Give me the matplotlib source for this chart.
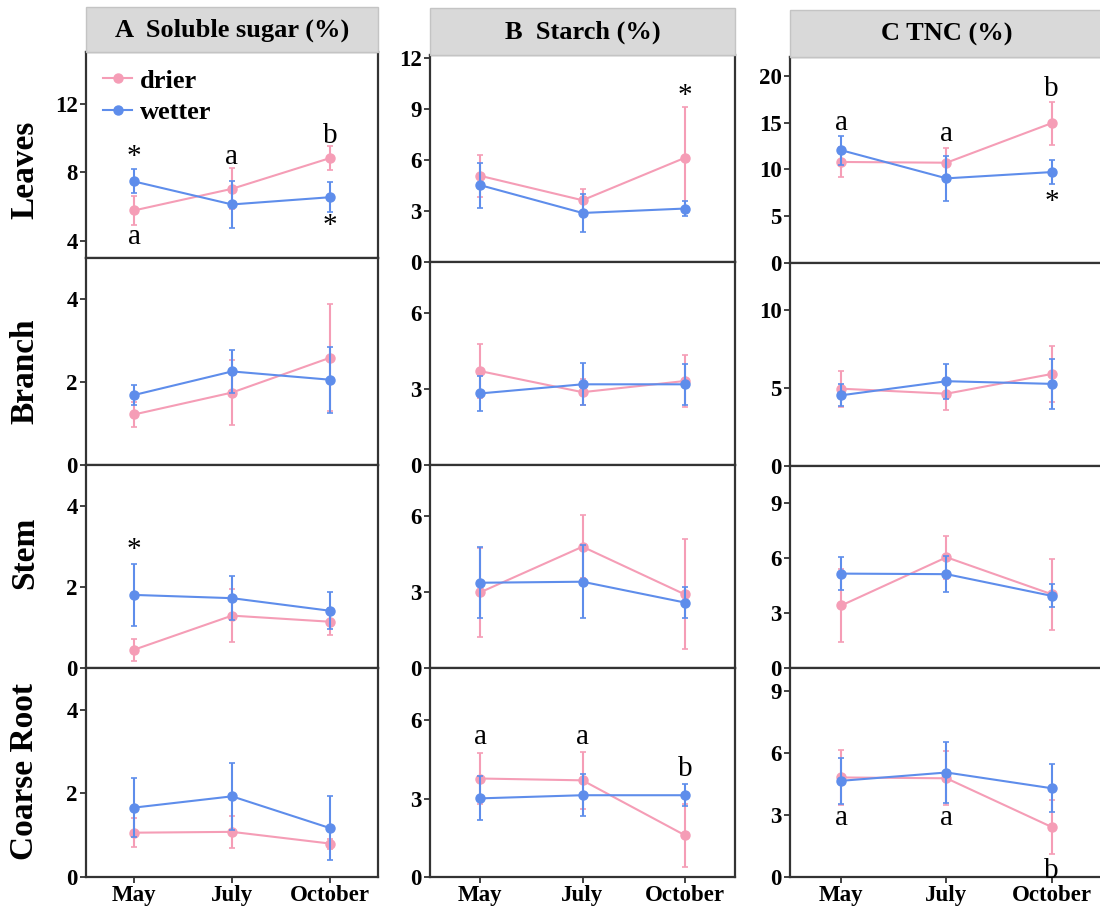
import matplotlib
matplotlib.use("Agg")
import matplotlib.pyplot as plt
from matplotlib.lines import Line2D
from matplotlib.patches import Rectangle

# ---------------- data ----------------
months = ["May", "July", "October"]
tissues = ["Leaves", "Branch", "Stem", "Coarse Root"]
panel_titles = ["A  Soluble sugar (%)", "B  Starch (%)", "C TNC (%)"]

# rows: Leaves, Branch, Stem, Coarse Root ; columns: May, July, October
sugar_drier = [[5.77, 7.03, 8.82], [1.22, 1.75, 2.59], [0.45, 1.29, 1.14], [1.06, 1.08, 0.80]]
sugar_drier_err = [[0.87, 1.20, 0.68], [0.30, 0.79, 1.29], [0.27, 0.65, 0.33], [0.34, 0.38, 0.12]]
sugar_wetter = [[7.46, 6.12, 6.54], [1.69, 2.26, 2.06], [1.80, 1.72, 1.41], [1.66, 1.93, 1.17]]
sugar_wetter_err = [[0.70, 1.38, 0.88], [0.24, 0.52, 0.80], [0.77, 0.55, 0.45], [0.71, 0.80, 0.77]]

starch_drier = [[5.08, 3.64, 6.14], [3.70, 2.87, 3.31], [2.98, 4.78, 2.90], [3.77, 3.70, 1.60]]
starch_drier_err = [[1.22, 0.69, 2.97], [1.07, 0.50, 1.04], [1.74, 1.24, 2.17], [0.97, 1.10, 1.21]]
starch_wetter = [[4.53, 2.89, 3.15], [2.82, 3.18, 3.18], [3.36, 3.40, 2.58], [3.01, 3.13, 3.13]]
starch_wetter_err = [[1.33, 1.10, 0.42], [0.68, 0.83, 0.80], [1.40, 1.44, 0.60], [0.84, 0.80, 0.42]]

tnc_drier = [[10.79, 10.71, 14.93], [4.95, 4.63, 5.89], [3.41, 6.03, 4.02], [4.81, 4.77, 2.42]]
tnc_drier_err = [[1.60, 1.60, 2.30], [1.15, 1.03, 1.80], [2.00, 1.18, 1.94], [1.32, 1.30, 1.29]]
tnc_wetter = [[12.04, 9.04, 9.71], [4.53, 5.43, 5.26], [5.14, 5.11, 3.93], [4.65, 5.05, 4.29]]
tnc_wetter_err = [[1.53, 2.40, 1.25], [0.70, 1.12, 1.58], [0.89, 0.98, 0.63], [1.10, 1.48, 1.16]]

# significance annotations: (column, row, month index, y value, text)
annotations = [
    (0, 0, 0, 8.9, "*"), (0, 0, 0, 4.2, "a"), (0, 0, 1, 8.9, "a"),
    (0, 0, 2, 10.1, "b"), (0, 0, 2, 4.85, "*"),
    (0, 2, 0, 2.9, "*"),
    (1, 0, 2, 9.8, "*"),
    (1, 3, 0, 5.35, "a"), (1, 3, 1, 5.35, "a"), (1, 3, 2, 4.15, "b"),
    (2, 0, 0, 14.9, "a"), (2, 0, 1, 13.8, "a"), (2, 0, 2, 18.6, "b"), (2, 0, 2, 6.5, "*"),
    (2, 3, 0, 2.85, "a"), (2, 3, 1, 2.85, "a"), (2, 3, 2, 0.3, "b"),
]

ylims = [
    [(3, 15), (0, 5), (0, 5), (0, 5)],
    [(0, 12.2), (0, 8), (0, 8), (0, 8)],
    [(0, 22), (0, 13), (0, 11), (0, 10.1)],
]
yticks = [
    [[4, 8, 12], [0, 2, 4], [0, 2, 4], [0, 2, 4]],
    [[0, 3, 6, 9, 12], [0, 3, 6], [0, 3, 6], [0, 3, 6]],
    [[0, 5, 10, 15, 20], [0, 5, 10], [0, 3, 6, 9], [0, 3, 6, 9]],
]

data = [
    (sugar_drier, sugar_drier_err, sugar_wetter, sugar_wetter_err),
    (starch_drier, starch_drier_err, starch_wetter, starch_wetter_err),
    (tnc_drier, tnc_drier_err, tnc_wetter, tnc_wetter_err),
]

# ---------------- style ----------------
SERIF = ["Liberation Serif", "DejaVu Serif"]
plt.rcParams["font.family"] = SERIF
C_DRY = "#F59DB6"
C_WET = "#5E8DEB"
SPINE = "#333333"

W, H = 1100, 909
fig = plt.figure(figsize=(W / 100, H / 100), dpi=100)

col_x = [(86, 378), (430, 735), (790, 1103)]
col_top = [52, 55, 57]
col_bottoms = [[258, 465, 668, 877], [262, 465, 668, 877], [263, 466, 668, 877]]
header_box = [(86, 7, 378, 52), (430, 8, 735, 55), (790, 10, 1103, 57)]


def fx(px):
    return px / W


def fy(py):
    return 1 - py / H


x = [0, 1, 2]
axes = {}
for c in range(3):
    x0, x1 = col_x[c]
    tops = [col_top[c]] + col_bottoms[c][:-1]
    dr, dre, we, wee = data[c]
    for r in range(4):
        t, b = tops[r], col_bottoms[c][r]
        ax = fig.add_axes([fx(x0), fy(b), fx(x1 - x0), (b - t) / H])
        axes[(c, r)] = ax
        ax.errorbar(x, dr[r], yerr=dre[r], color=C_DRY, marker="o", ms=6.5,
                    lw=1.5, elinewidth=1.5, capsize=2, capthick=1.2, zorder=3)
        ax.errorbar(x, we[r], yerr=wee[r], color=C_WET, marker="o", ms=6.5,
                    lw=1.5, elinewidth=1.5, capsize=2, capthick=1.2, zorder=4)
        ax.set_xlim(-0.49, 2.49)
        ax.set_ylim(*ylims[c][r])
        ax.set_yticks(yticks[c][r])
        ax.set_xticks(x)
        if r == 3:
            ax.set_xticklabels(months)
        else:
            ax.set_xticklabels([])
        ax.tick_params(axis="both", direction="out", length=4, width=1.3,
                       color=SPINE, labelsize=16.5, pad=2)
        for lab in ax.get_xticklabels() + ax.get_yticklabels():
            lab.set_fontweight("bold")
        for s in ax.spines.values():
            s.set_color(SPINE)
            s.set_linewidth(1.6)

# annotations
for c, r, mi, yv, s in annotations:
    axes[(c, r)].text(x[mi], yv, s, ha="center", va="center", fontsize=21,
                      family=SERIF, zorder=5)

# headers
for c in range(3):
    x0, y0, x1, y1 = header_box[c]
    fig.patches.append(Rectangle((fx(x0), fy(y1)), fx(x1 - x0), (y1 - y0) / H,
                                 transform=fig.transFigure, facecolor="#D9D9D9",
                                 edgecolor="#C4C4C4", lw=1, zorder=0))
    fig.text(fx((x0 + x1) / 2), fy((y0 + y1) / 2 + 1), panel_titles[c], ha="center",
             va="center", fontsize=19, fontweight="bold")

# row labels
row_label_y = [170, 371, 553, 772]
for r in range(4):
    fig.text(fx(25), fy(row_label_y[r]), tissues[r], rotation=90, ha="center",
             va="center", fontsize=24, fontweight="bold")

# legend
handles = [Line2D([], [], color=C_DRY, marker="o", ms=6.5, lw=1.5),
           Line2D([], [], color=C_WET, marker="o", ms=6.5, lw=1.5)]
axes[(0, 0)].legend(handles, ["drier", "wetter"], loc="upper left",
                    bbox_to_anchor=(0.0, 1.0), frameon=False,
                    prop={"family": SERIF, "weight": "bold", "size": 19},
                    handlelength=1.1, handletextpad=0.3, labelspacing=0.3,
                    borderaxespad=0.25)

fig.savefig("out.png", dpi=100)
